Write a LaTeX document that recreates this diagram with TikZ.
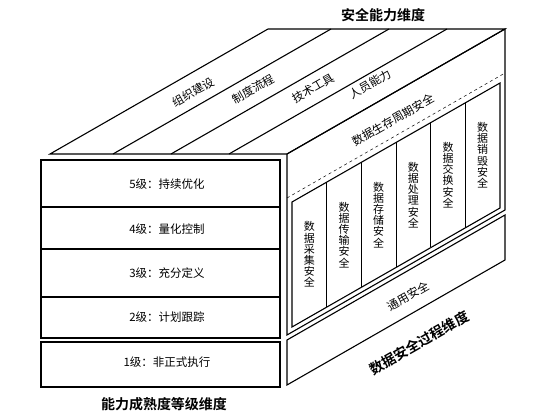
\documentclass[tikz,border=0pt]{standalone}
\usepackage{fontspec}
\setmainfont{Noto Sans CJK SC}[BoldFont={Noto Sans CJK SC Bold}]
\usetikzlibrary{calc}

\tikzset{
  face/.style={draw,line width=1.1pt},
  thin/.style={draw,line width=0.8pt},
  lbl/.style={font=\fontsize{11.5}{11.5}\selectfont,inner sep=0pt},
  axis/.style={font=\fontsize{14}{14}\selectfont\bfseries,inner sep=0pt},
  slant/.style={lbl,rotate=29.8},
  colname/.style={lbl,align=center,font=\fontsize{11}{11.2}\selectfont}
}

\begin{document}
\begin{tikzpicture}[x=1pt,y=-1pt]
\useasboundingbox[fill=white] (0,0) rectangle (558,419);

% top face: security capability dimension
\coordinate (tbl) at (50,154);
\coordinate (tbr) at (287,154);
\coordinate (ttr) at (505,29);
\coordinate (ttl) at (268,29);
\draw[face] (tbl) -- (tbr) -- (ttr) -- (ttl) -- cycle;
\foreach \x in {113,171,229}
  \draw[face] (\x,154) -- ++(218,-125);
\node[slant] (org)  at (193,92) {组织建设};
\node[slant] (rule) at (253,89) {制度流程};
\node[slant] (tool) at (313,88) {技术工具};
\node[slant] (staff) at (370,84) {人员能力};

% right face, upper part
\coordinate (rbl) at (287,335);
\coordinate (rbr) at (505,210);
\draw[face] (tbr) -- (ttr) -- (rbr) -- (rbl) -- cycle;
\draw[dashed,line width=0.5pt] (287,198) -- (505,73);
\node[slant] (life) at (393,120) {数据生存周期安全};

% lifecycle columns
\draw[face] (292,202) -- (500,83) -- (500,208) -- (292,327) -- cycle;
\foreach \i in {1,...,5}
  \draw[thin] ({292+\i*34.667},{202-0.5734*\i*34.667}) -- ++(0,125);
\foreach \a/\b [count=\i] in {采/集,传/输,存/储,处/理,交/换,销/毁}
  \node[colname] (col\i) at ({292+(\i-0.5)*34.667},{264.5-0.5734*(\i-0.5)*34.667})
    {数\\据\\\a\\\b\\安\\全};

% right face, lower part
\draw[face] (287,340) -- (505,215) -- (505,260) -- (287,385) -- cycle;
\node[slant] (common) at (408,296) {通用安全};

% front box: maturity levels
\draw[face] (41,160) rectangle (280,338);
\draw[face] (41,342) rectangle (280,387);
\foreach \y in {207,249,297}
  \draw[face] (41,\y) -- (280,\y);
\node[lbl] (lv5) at (167,184) {5级：持续优化};
\node[lbl] (lv4) at (167,229) {4级：量化控制};
\node[lbl] (lv3) at (167,273) {3级：充分定义};
\node[lbl] (lv2) at (167,317) {2级：计划跟踪};
\node[lbl] (lv1) at (167,362) {1级：非正式执行};

% dimension labels
\node[axis] (capdim) at (383,15) {安全能力维度};
\node[axis] (matdim) at (164,404) {能力成熟度等级维度};
\node[axis,rotate=29.8] (procdim) at (419,343) {数据安全过程维度};
\end{tikzpicture}
\end{document}
